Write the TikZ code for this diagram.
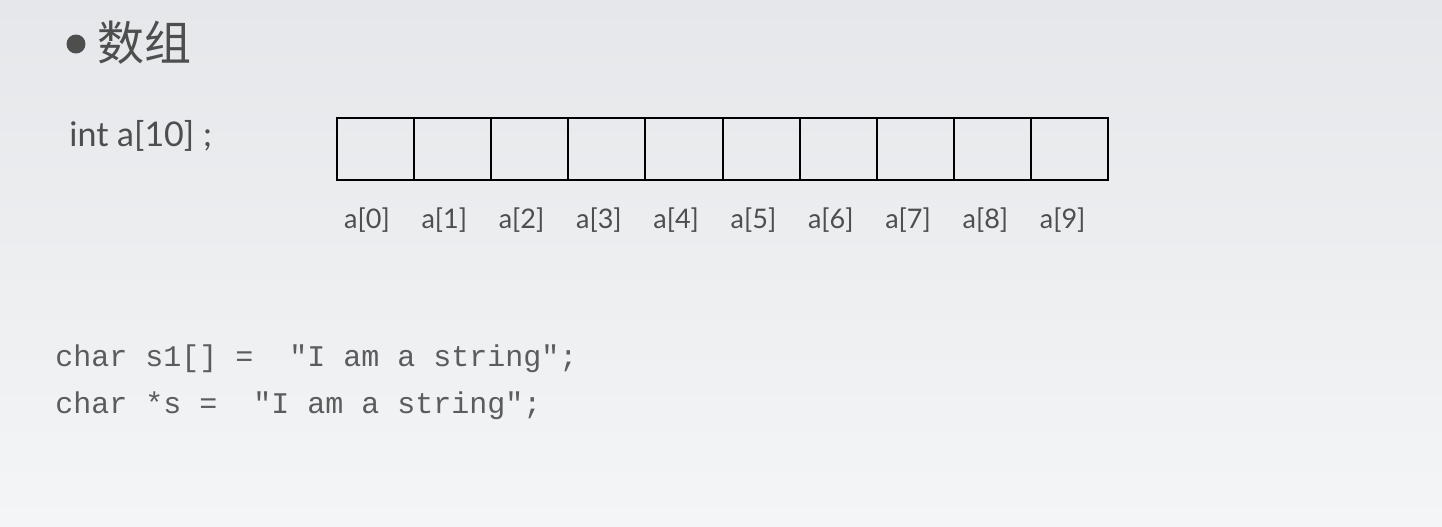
\documentclass[tikz,border=0pt]{standalone}
\usepackage{fontspec}
\setmainfont{Lato}
\newfontfamily\cjk{Noto Sans CJK SC}
\newfontfamily\codefont{Liberation Mono}
\definecolor{txt}{HTML}{4E4E4E}
\definecolor{codetxt}{HTML}{5C5C5C}
\definecolor{bgtop}{HTML}{E5E7EA}
\definecolor{bgbot}{HTML}{F4F5F6}
\begin{document}
\begin{tikzpicture}[x=0.5pt,y=-0.5pt,
  cell/.style={draw=black,line width=1pt,minimum width=38.55pt,minimum height=31pt,inner sep=0pt,anchor=north west},
  idx/.style={text=txt,font=\fontsize{13.5pt}{16pt}\selectfont,anchor=base,inner sep=0pt},
  code/.style={text=codetxt,font=\codefont\fontsize{15pt}{18pt}\selectfont,anchor=base west,inner sep=0pt}]
\shade[top color=bgtop,bottom color=bgbot,shading angle=0] (0,0) rectangle (1442,526);
\useasboundingbox (0,0) rectangle (1442,526);
\node[circle,fill=txt,inner sep=0pt,minimum size=9.5pt] (dot) at (76,44) {};
\node[text=txt,font=\cjk\fontsize{23.5pt}{26pt}\selectfont,anchor=base west,inner sep=0pt] (title) at (97,60) {数组};
\node[text=txt,font=\fontsize{17pt}{20pt}\selectfont,anchor=base west,inner sep=0pt] (decl) at (69,146) {int a[10] ;};
\foreach \i in {0,...,9}{
  \node[cell] (c\i) at ({336+77.1*\i},117) {};
  \node[idx] (l\i) at ({367+77.3*\i},228) {a[\i]};
}
\node[code] (s1) at (55,366) {char s1[] =~~"I am a string";};
\node[code] (s2) at (55,413) {char *s =~~"I am a string";};
\end{tikzpicture}
\end{document}
